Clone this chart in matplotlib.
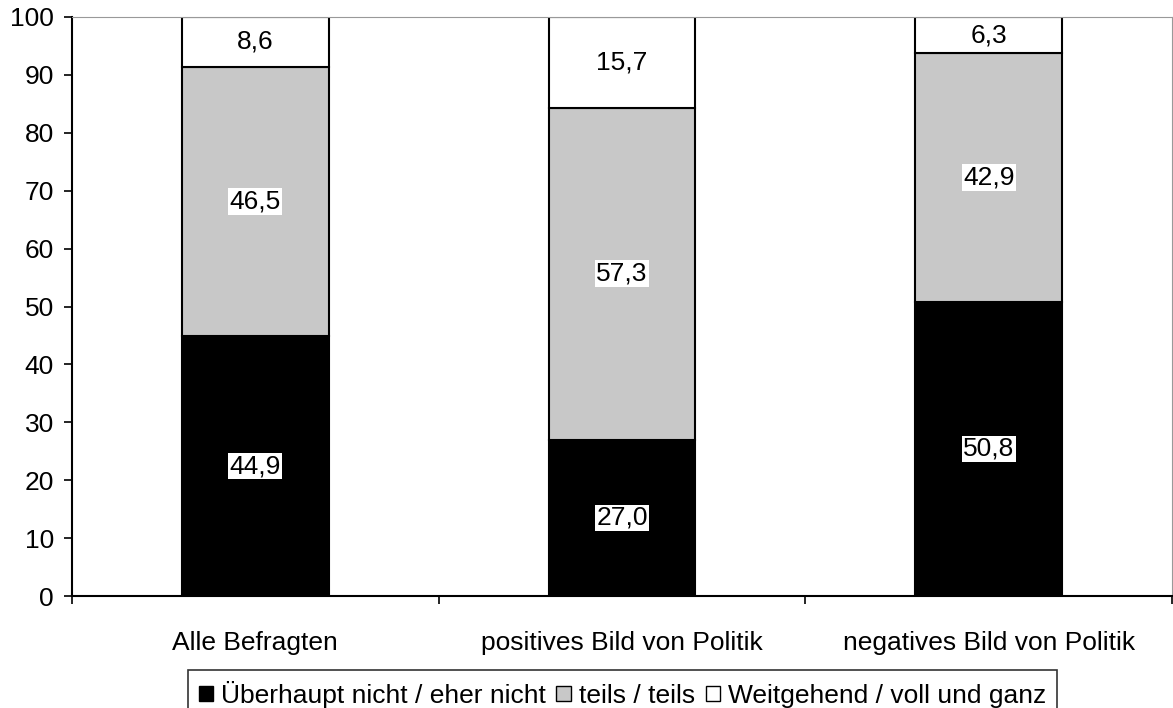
import numpy as np
import matplotlib.pyplot as plt
from matplotlib.patches import Patch

plt.rcParams['font.family'] = ['Liberation Sans', 'DejaVu Sans']

categories = ["Alle Befragten", "positives Bild von Politik", "negatives Bild von Politik"]
series_names = ["Überhaupt nicht / eher nicht", "teils / teils", "Weitgehend / voll und ganz"]
nicht = [44.9, 27.0, 50.8]
teils = [46.5, 57.3, 42.9]
voll = [8.6, 15.7, 6.3]
colors = ["#000000", "#c8c8c8", "#ffffff"]

fs = 19
fig = plt.figure(figsize=(11.73, 7.08), dpi=100)
ax = fig.add_axes([72 / 1173, 1 - 596 / 708, 1100 / 1173, 579 / 708])

x = np.arange(len(categories))
bottom = np.zeros(len(categories))
for vals, col in zip([nicht, teils, voll], colors):
    vals = np.array(vals)
    ax.bar(x, vals, width=0.4, bottom=bottom, color=col, edgecolor="black", linewidth=1.5, zorder=2)
    for xi, b, v in zip(x, bottom, vals):
        ax.text(xi, b + v / 2, f"{v:.1f}".replace(".", ","), ha="center", va="center",
                fontsize=fs, zorder=3,
                bbox=dict(facecolor="white", edgecolor="none", pad=1.0))
    bottom += vals

ax.set_xlim(-0.5, 2.5)
ax.set_ylim(0, 100)
ax.set_yticks(np.arange(0, 101, 10))
ax.tick_params(axis="y", labelsize=fs, length=6, width=1.2, pad=7, direction="out")
ax.set_xticks([-0.5, 0.5, 1.5, 2.5])
ax.set_xticklabels([])
ax.set_xticks(x, minor=True)
ax.set_xticklabels(categories, minor=True, fontsize=fs)
ax.tick_params(axis="x", which="major", length=6, width=1.2)
ax.tick_params(axis="x", which="minor", length=0, pad=25)

for s in ["left", "bottom"]:
    ax.spines[s].set_linewidth(1.5)
for s in ["top", "right"]:
    ax.spines[s].set_color("#999999")

handles = [Patch(facecolor=c, edgecolor="black", label=n) for c, n in zip(colors, series_names)]
leg = fig.legend(handles=handles, loc="upper left", bbox_to_anchor=(188 / 1173, 1 - 670 / 708), ncol=3,
                 fontsize=fs, frameon=True, fancybox=False, handlelength=0.55, handleheight=0.5,
                 handletextpad=0.3, columnspacing=0.4, borderpad=0.4, borderaxespad=0)
leg.get_frame().set_edgecolor("black")
leg.get_frame().set_linewidth(1.2)

fig.savefig("out.png", dpi=100)
